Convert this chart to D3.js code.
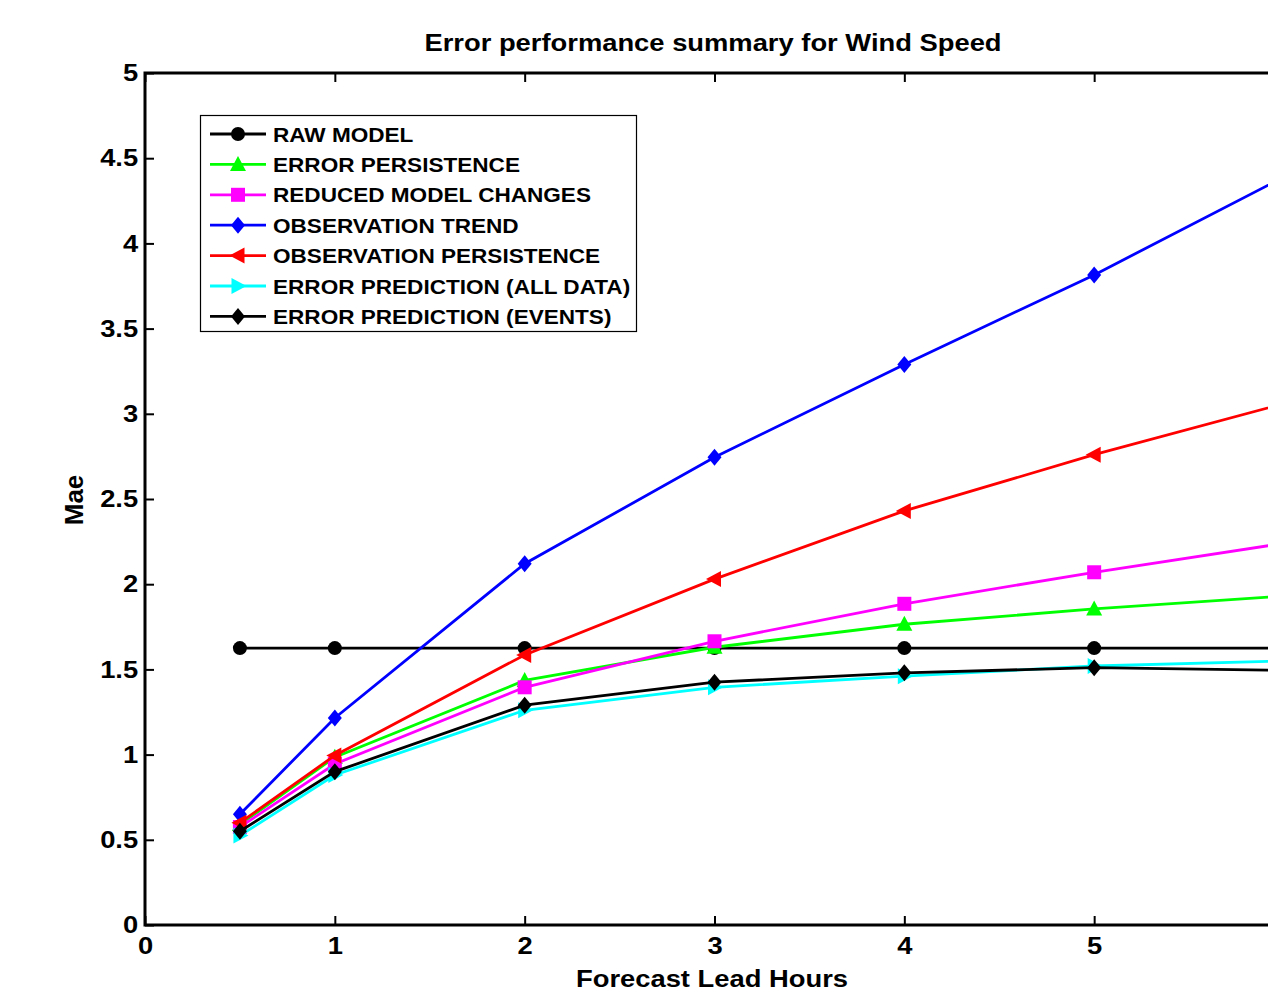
<!DOCTYPE html>
<html>
<head>
<meta charset="utf-8">
<script src="https://cdn.jsdelivr.net/npm/d3@7"></script>
<style>
  body { margin: 0; background: #fff; }
  text { font-family: "Liberation Sans", Arial, sans-serif; font-weight: bold; fill: #000; }
</style>
</head>
<body>
<script>
const w = 1268;
const h = 995;

// lead hours
const hours = [0.5, 1, 2, 3, 4, 5, 6];

const seriesNames = [
  "RAW MODEL",
  "ERROR PERSISTENCE",
  "REDUCED MODEL CHANGES",
  "OBSERVATION TREND",
  "OBSERVATION PERSISTENCE",
  "ERROR PREDICTION (ALL DATA)",
  "ERROR PREDICTION (EVENTS)"
];

const rawModel    = [1.625, 1.625, 1.625, 1.625, 1.625, 1.625, 1.625];
const errPersist  = [0.59, 0.985, 1.435, 1.63, 1.765, 1.855, 1.93];
const reducedMod  = [0.575, 0.945, 1.395, 1.665, 1.885, 2.07, 2.24];
const obsTrend    = [0.65, 1.215, 2.12, 2.745, 3.29, 3.815, 4.39];
const obsPersist  = [0.6, 0.995, 1.585, 2.03, 2.43, 2.76, 3.06];
const errPredAll  = [0.525, 0.88, 1.26, 1.395, 1.46, 1.52, 1.55];
const errPredEvt  = [0.55, 0.9, 1.29, 1.425, 1.48, 1.51, 1.495];

const yTicks = [0, 0.5, 1, 1.5, 2, 2.5, 3, 3.5, 4, 4.5, 5];
const xTicks = [0, 1, 2, 3, 4, 5]; // 6 falls just past the window edge

const colors  = ["#000000", "#00ff00", "#ff00ff", "#0000ff", "#ff0000", "#00ffff", "#000000"];
const markers = ["circle", "up", "square", "diamond", "left", "right", "diamond"];
const values  = [rawModel, errPersist, reducedMod, obsTrend, obsPersist, errPredAll, errPredEvt];

const sx = 1.14; // the picture is a bit wider than tall

const margin = {left: 145, top: 73, right: 1284, bottom: 925};

const x = d3.scaleLinear().domain([0, 6]).range([margin.left, margin.right]);
const y = d3.scaleLinear().domain([0, 5]).range([margin.bottom, margin.top]);

const svg = d3.select("body").append("svg")
  .attr("width", w)
  .attr("height", h);

function marker(g, type, color) {
  if (type == "circle") {
    g.append("circle").attr("r", 7).attr("fill", color);
  } else if (type == "square") {
    g.append("rect").attr("x", -7).attr("y", -7).attr("width", 14).attr("height", 14).attr("fill", color);
  } else if (type == "diamond") {
    g.append("path").attr("d", "M0,-8.5L7,0L0,8.5L-7,0Z").attr("fill", color);
  } else if (type == "up") {
    g.append("path").attr("d", "M0,-8.5L8,6.5L-8,6.5Z").attr("fill", color);
  } else if (type == "left") {
    g.append("path").attr("d", "M-8.5,0L6.5,-8L6.5,8Z").attr("fill", color);
  } else if (type == "right") {
    g.append("path").attr("d", "M8.5,0L-6.5,-8L-6.5,8Z").attr("fill", color);
  }
}

const line = d3.line()
  .x(d => x(d[0]))
  .y(d => y(d[1]));

// series
values.forEach(function(vals, i) {
  const pts = hours.map((hr, j) => [hr, vals[j]]);
  svg.append("path")
    .datum(pts)
    .attr("fill", "none")
    .attr("stroke", colors[i])
    .attr("stroke-width", 2.8)
    .attr("d", line);
  pts.forEach(function(p) {
    const g = svg.append("g").attr("transform", "translate(" + x(p[0]) + "," + y(p[1]) + ")");
    marker(g, markers[i], colors[i]);
  });
});

// axes
const yAxis = d3.axisLeft(y).tickValues(yTicks).tickSize(-9).tickSizeOuter(0).tickPadding(6)
  .tickFormat(d3.format("~g"));
const gy = svg.append("g").attr("transform", "translate(" + margin.left + ",0)").call(yAxis);

const xAxis = d3.axisBottom(x).tickValues(xTicks).tickSize(-9).tickSizeOuter(0).tickPadding(12)
  .tickFormat(d3.format("d"));
const gx = svg.append("g").attr("transform", "translate(0," + margin.bottom + ")").call(xAxis);

const xTop = d3.axisTop(x).tickValues(xTicks).tickSize(-9).tickSizeOuter(0).tickFormat("");
const gt = svg.append("g").attr("transform", "translate(0," + margin.top + ")").call(xTop);

[gx, gy, gt].forEach(function(g) {
  g.select(".domain").remove();
  g.selectAll(".tick line").attr("stroke", "#000").attr("stroke-width", 2);
  g.selectAll(".tick text")
    .attr("font-size", 24)
    .attr("font-family", "Liberation Sans, Arial, sans-serif")
    .attr("font-weight", "bold")
    .attr("fill", "#000")
    .attr("transform", "scale(" + sx + ",1)");
});

// axis box lines
svg.append("path")
  .attr("d", "M" + margin.right + "," + margin.top + "H" + margin.left + "V" + margin.bottom + "H" + margin.right)
  .attr("fill", "none")
  .attr("stroke", "#000")
  .attr("stroke-width", 3);

function label(txt, px, py, size, anchor) {
  return svg.append("text")
    .attr("transform", "translate(" + px + "," + py + ") scale(" + sx + ",1)")
    .attr("text-anchor", anchor || "middle")
    .attr("font-size", size)
    .text(txt);
}

label("Error performance summary for Wind Speed", 713, 51, 24);
label("Forecast Lead Hours", 712, 987, 24);

svg.append("text")
  .attr("transform", "translate(83,500) rotate(-90)")
  .attr("text-anchor", "middle")
  .attr("font-size", 26)
  .text("Mae");

// legend
const legend = svg.append("g");
legend.append("rect")
  .attr("x", 200.5).attr("y", 115.5)
  .attr("width", 436).attr("height", 216)
  .attr("fill", "#fff")
  .attr("stroke", "#000")
  .attr("stroke-width", 1.2);

seriesNames.forEach(function(name, i) {
  const ly = 134 + i * 30.4;
  legend.append("line")
    .attr("x1", 210).attr("x2", 266)
    .attr("y1", ly).attr("y2", ly)
    .attr("stroke", colors[i])
    .attr("stroke-width", 2.8);
  const g = legend.append("g").attr("transform", "translate(238," + ly + ")");
  marker(g, markers[i], colors[i]);
  legend.append("text")
    .attr("transform", "translate(273," + (ly + 7.5) + ") scale(" + sx + ",1)")
    .attr("font-size", 19.8)
    .text(name);
});
</script>
</body>
</html>
